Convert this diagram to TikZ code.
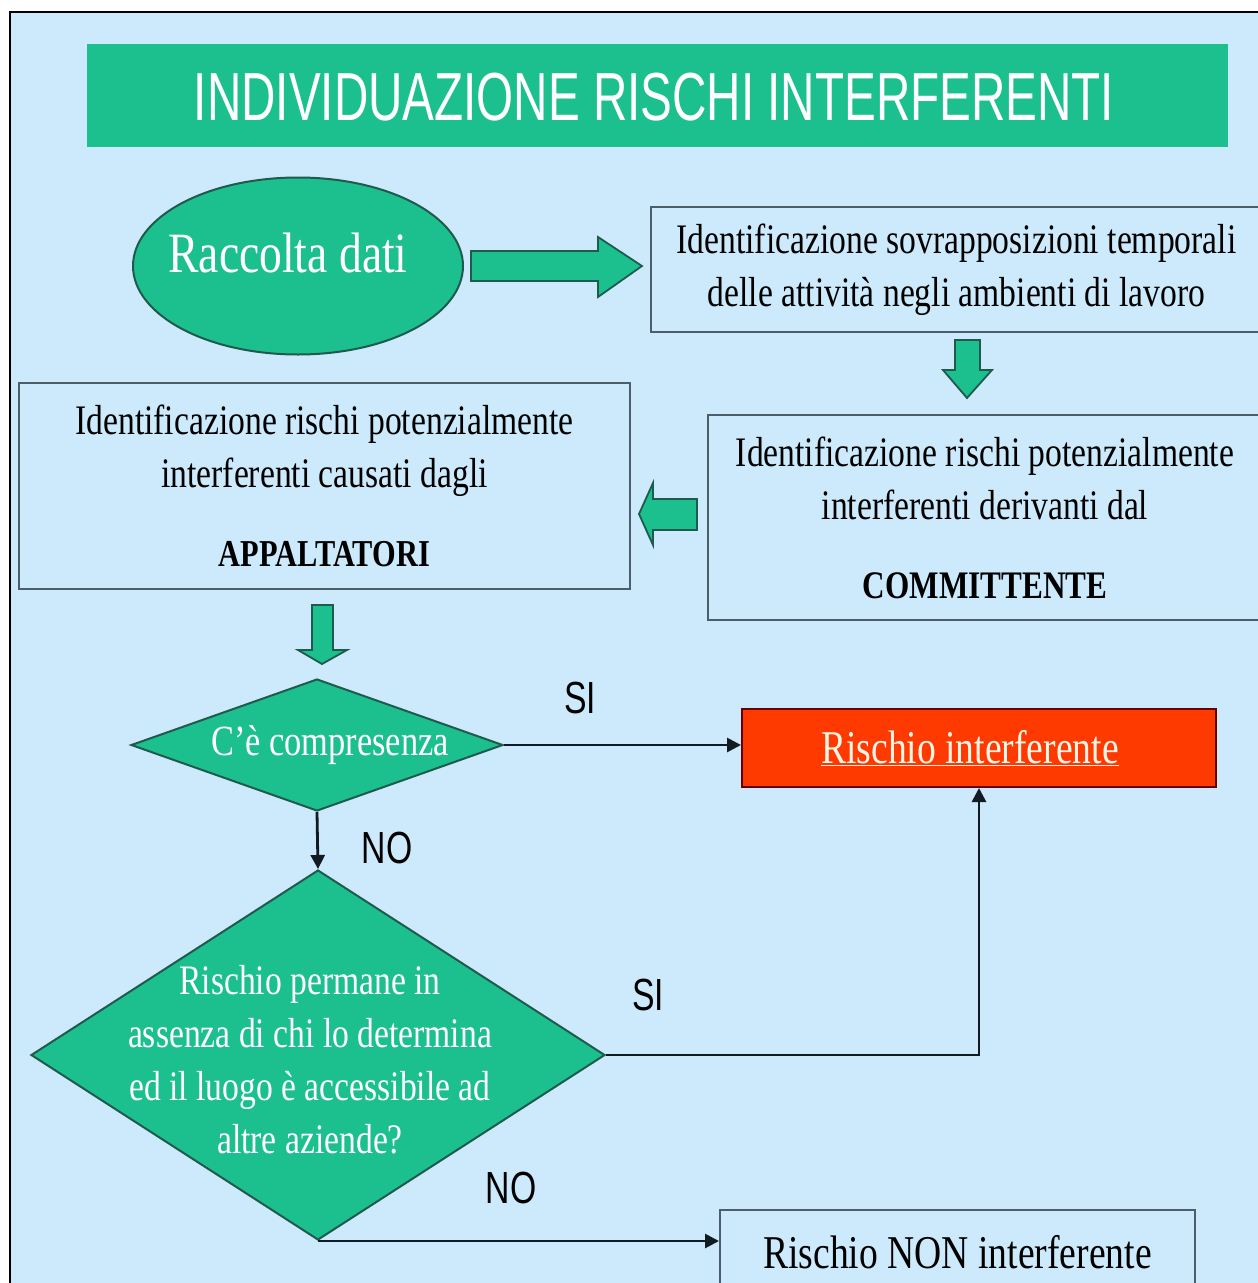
\documentclass[tikz,border=0pt]{standalone}
\usepackage{fontspec}
\usetikzlibrary{shapes.geometric,arrows.meta}
\newfontfamily\cserif[FakeStretch=0.8]{Liberation Serif}
\newfontfamily\csans[FakeStretch=0.75]{Liberation Sans}
\newfontfamily\tsans[FakeStretch=0.70]{Liberation Sans}
\definecolor{bgblue}{HTML}{CCEAFB}
\definecolor{tgreen}{HTML}{1CC08E}
\definecolor{tedge}{HTML}{1F5A4C}
\definecolor{boxedge}{HTML}{4C5D6B}
\definecolor{rred}{HTML}{FF3A00}
\definecolor{cream}{HTML}{FFF4E6}
\definecolor{lineblk}{HTML}{121A22}
\tikzset{
  box/.style={draw=boxedge, line width=2pt, inner sep=0pt, align=center,
    font=\cserif\fontsize{42}{53}\selectfont, text=black},
  greenshape/.style={fill=tgreen, draw=tedge, line width=2pt, inner sep=0pt},
  wtext/.style={inner sep=0pt, align=center, text=white,
    font=\cserif\fontsize{42}{53}\selectfont},
  lbl/.style={inner sep=0pt, font=\csans\fontsize{45}{45}\selectfont, text=black},
  conn/.style={draw=lineblk, line width=2.8pt, -{Triangle[length=14pt,width=14pt]}},
  blockarrow/.style={fill=tgreen, draw=tedge, line width=1.8pt, line join=miter}
}
\begin{document}
\begin{tikzpicture}[x=1pt,y=-1pt]
\useasboundingbox (0,0) rectangle (1258,1283);
\clip (0,0) rectangle (1258,1283);
\fill[white] (0,0) rectangle (1258,1283);
\draw[fill=bgblue, line width=2.5pt] (10,12) rectangle (1280,1310);

% title
\node[fill=tgreen, minimum width=1141pt, minimum height=103pt, inner sep=0pt] (title) at (657.5,95.5) {};
\node[inner sep=0pt, text=white, font=\tsans\fontsize{68}{68}\selectfont] (titletext) at (654,97) {INDIVIDUAZIONE RISCHI INTERFERENTI};

% ellipse
\node[greenshape, ellipse, minimum width=330pt, minimum height=177pt] (raccolta) at (298,266) {};
\node[wtext, font=\cserif\fontsize{57}{57}\selectfont] (raccoltatext) at (288,253) {Raccolta dati};

% boxes
\node[box, minimum width=611pt, minimum height=125pt] (sovr) at (956.5,269.5)
  {Identificazione sovrapposizioni temporali\\delle attività negli ambienti di lavoro};
\node[box, minimum width=554pt, minimum height=205pt] (comm) at (985,517.5)
  {Identificazione rischi potenzialmente\\interferenti derivanti dal\\[26pt]{\fontsize{39}{53}\selectfont\bfseries COMMITTENTE}};
\node[box, minimum width=611pt, minimum height=206pt] (appa) at (324.5,486)
  {Identificazione rischi potenzialmente\\interferenti causati dagli\\[26pt]{\fontsize{38}{53}\selectfont\bfseries APPALTATORI}};

% red box
\node[fill=rred, draw=black!60!red, line width=2pt, minimum width=474pt, minimum height=78pt, inner sep=0pt] (rischio) at (979,748) {};
\node[inner sep=0pt, text=cream, font=\cserif\fontsize{47}{47}\selectfont] (rischiotext) at (970,748) {\underline{Rischio interferente}};

% non interferente box
\node[box, minimum width=475pt, minimum height=85pt, font=\cserif\fontsize{47}{47}\selectfont] (nonint) at (957.5,1252.5) {Rischio NON interferente};

% diamonds
\node[greenshape, diamond, minimum width=372pt, minimum height=132pt] (d1) at (317,745) {};
\node[wtext, font=\cserif\fontsize{43}{43}\selectfont] (d1text) at (330,745) {C’è compresenza};
\node[greenshape, diamond, minimum width=574pt, minimum height=370pt] (d2) at (318,1055) {};
\node[wtext] (d2text) at (310,1060) {Rischio permane in\\assenza di chi lo determina\\ed il luogo è accessibile ad\\altre aziende?};

% block arrows
\draw[blockarrow] (471,251) -- (598,251) -- (598,237) -- (642,266) -- (598,297) -- (598,281) -- (471,281) -- cycle;
\draw[blockarrow] (955,340) -- (980,340) -- (980,370) -- (992,370) -- (967,398) -- (943,370) -- (955,370) -- cycle;
\draw[blockarrow] (697,499) -- (697,530) -- (653,530) -- (653,545) -- (639,514) -- (653,483) -- (653,499) -- cycle;
\draw[blockarrow] (312,605) -- (333,605) -- (333,650) -- (347,650) -- (322,664) -- (298,650) -- (312,650) -- cycle;

% connectors
\draw[conn] (d1.east) -- (d1.east -| rischio.west);
\draw[conn] (d1.south) -- (d2.north);
\draw[conn] (d2.east) -| (rischio.south);
\draw[conn] (d2.south) -- (d2.south -| nonint.west);

% labels
\node[lbl] (si1) at (580,698) {SI};
\node[lbl] (no1) at (387,848) {NO};
\node[lbl] (si2) at (648,995) {SI};
\node[lbl] (no2) at (511,1188) {NO};
\end{tikzpicture}
\end{document}
